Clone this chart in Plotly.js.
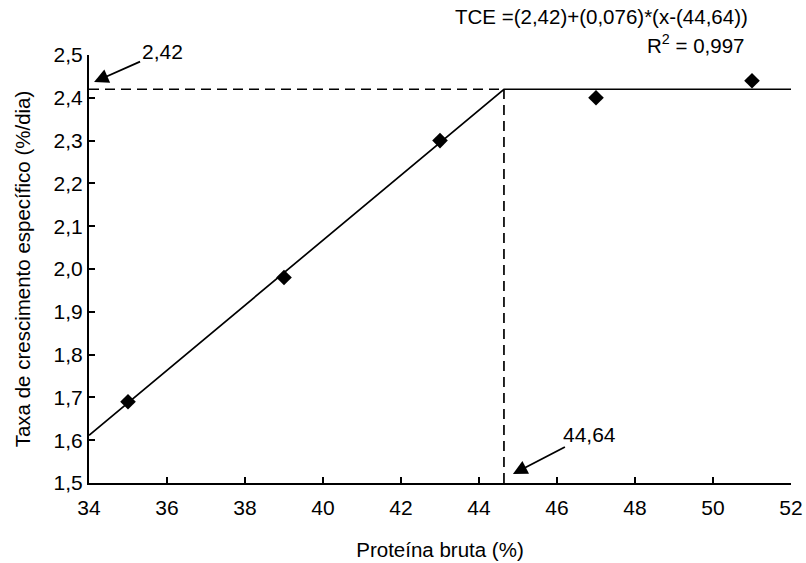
<!DOCTYPE html>
<html>
<head>
<meta charset="utf-8">
<script src="https://cdn.plot.ly/plotly-3.0.1.min.js"></script>
<style>
  html, body { margin: 0; padding: 0; background: #fff; }
  #chart { width: 806px; height: 563px; }
</style>
</head>
<body>
<div id="chart"></div>
<script>
// Observed growth rates by dietary crude protein
const proteina = [35, 39, 43, 47, 51];
const tce = [1.69, 1.98, 2.30, 2.40, 2.44];

// Broken-line (linear plateau) model parameters
const plato = 2.42;
const inclinacao = 0.076;
const ponto = 44.64;
const xMin = 34, xMax = 52;
const yMin = 1.5, yMax = 2.5;

const xTicks = [34, 36, 38, 40, 42, 44, 46, 48, 50, 52];
const yTicks = [1.5, 1.6, 1.7, 1.8, 1.9, 2.0, 2.1, 2.2, 2.3, 2.4, 2.5];

const modelo = x => (x < ponto ? plato + inclinacao * (x - ponto) : plato);
const linhaX = [xMin, ponto, xMax];
const linhaY = linhaX.map(modelo);

const font = { family: 'Liberation Sans, Arial, sans-serif', color: '#000' };
const f = size => Object.assign({ size: size }, font);

const traces = [
  {
    x: [xMin, ponto], y: [plato, plato], mode: 'lines',
    line: { color: '#000', width: 1.7, dash: '10px,6px' }, hoverinfo: 'skip'
  },
  {
    x: [ponto, ponto], y: [yMin, plato], mode: 'lines',
    line: { color: '#000', width: 1.7, dash: '10px,6px' }, hoverinfo: 'skip'
  },
  {
    x: linhaX, y: linhaY, mode: 'lines',
    line: { color: '#000', width: 1.7 }, hoverinfo: 'skip'
  },
  {
    x: proteina, y: tce, mode: 'markers',
    marker: { symbol: 'diamond', size: 12, color: '#000' }
  }
];

const layout = {
  width: 806, height: 563,
  margin: { l: 89, r: 15, t: 55, b: 80 },
  paper_bgcolor: '#fff', plot_bgcolor: '#fff',
  showlegend: false,
  separators: ',.',
  font: f(21),
  xaxis: {
    range: [xMin, xMax], tickvals: xTicks, ticktext: xTicks.map(String),
    showgrid: false, zeroline: false, showline: true, linecolor: '#000', linewidth: 2,
    ticks: 'inside', ticklen: 6, tickwidth: 2, tickcolor: '#000',
    ticklabelstandoff: 5,
    tickfont: f(21),
    title: { text: 'Proteína bruta (%)', font: f(20.5), standoff: 24 }
  },
  yaxis: {
    range: [yMin, yMax], tickvals: yTicks, tickformat: '.1f',
    showgrid: false, zeroline: false, showline: true, linecolor: '#000', linewidth: 2,
    ticks: 'inside', ticklen: 6, tickwidth: 2, tickcolor: '#000',
    tickfont: f(21),
    title: { text: 'Taxa de crescimento específico (%/dia)', font: f(20.5), standoff: 17 }
  },
  annotations: [
    {
      x: 34.13, y: 2.437, xref: 'x', yref: 'y',
      text: '2,42', showarrow: true, ax: 68, ay: -30,
      arrowhead: 2, arrowsize: 1.6, arrowwidth: 1.8, arrowcolor: '#000',
      font: f(21)
    },
    {
      x: 44.87, y: 1.521, xref: 'x', yref: 'y',
      text: '44,64', showarrow: true, ax: 77, ay: -40,
      arrowhead: 2, arrowsize: 1.6, arrowwidth: 1.8, arrowcolor: '#000',
      font: f(21)
    },
    {
      x: 0.5185, y: 1.089, xref: 'paper', yref: 'paper',
      xanchor: 'left', yanchor: 'middle', showarrow: false,
      text: 'TCE =(2,42)+(0,076)*(x-(44,64))',
      font: f(20.5)
    },
    {
      x: 0.936, y: 1.026, xref: 'paper', yref: 'paper',
      xanchor: 'right', yanchor: 'middle', showarrow: false,
      text: 'R<sup>2</sup> = 0,997',
      font: f(20.5)
    }
  ]
};

Plotly.newPlot('chart', traces, layout, { displayModeBar: false, staticPlot: true });
</script>
</body>
</html>
